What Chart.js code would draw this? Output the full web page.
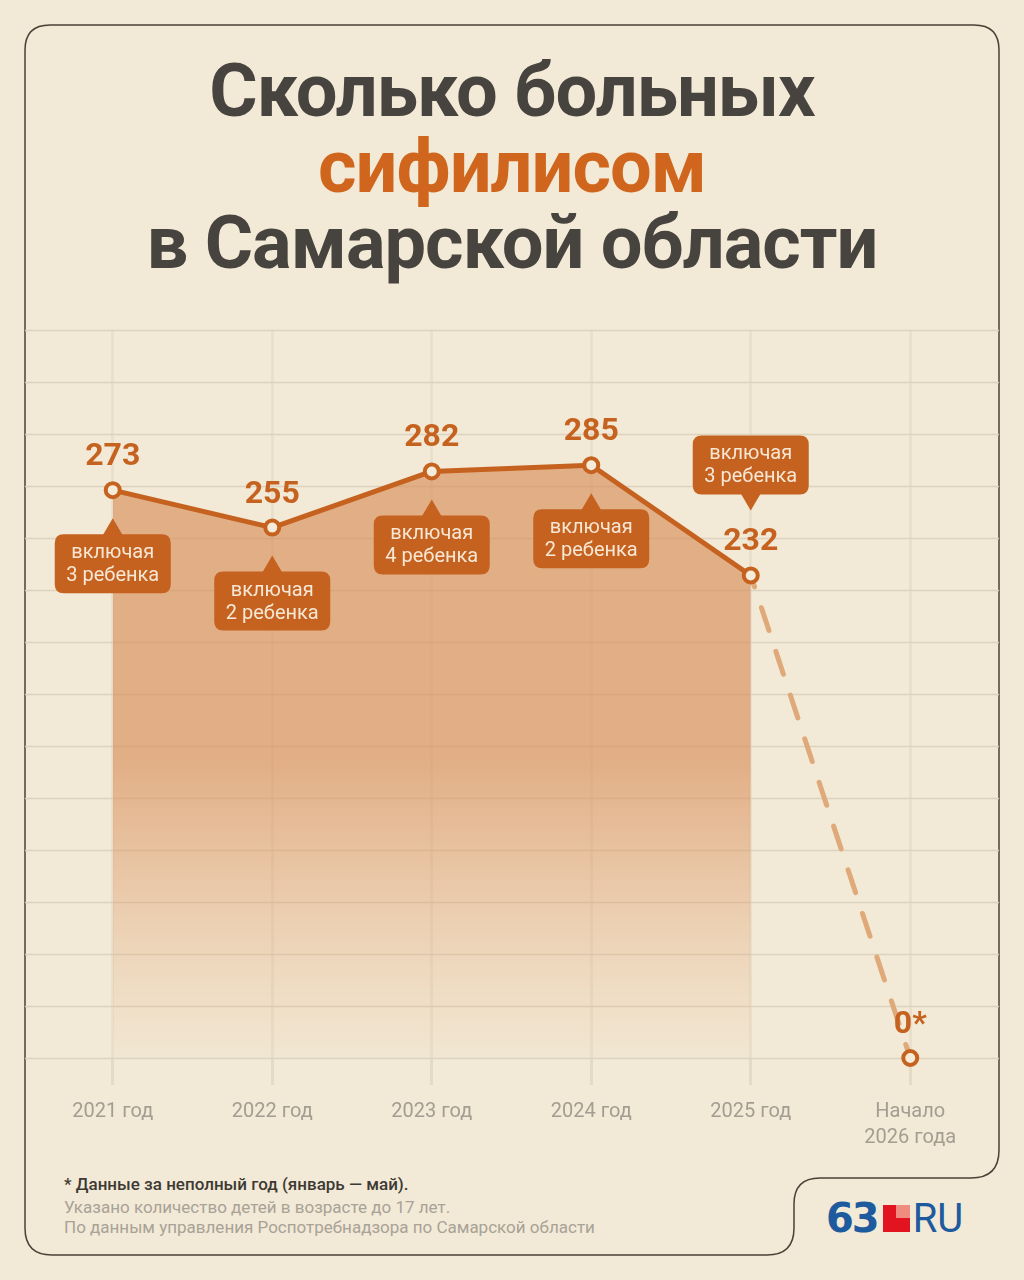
<!DOCTYPE html>
<html lang="ru">
<head>
<meta charset="utf-8">
<title>Сколько больных сифилисом в Самарской области</title>
<script src="https://cdn.jsdelivr.net/npm/chart.js@4.4.1/dist/chart.umd.min.js"></script>
<style>
  html, body { margin: 0; padding: 0; }
  body {
    width: 1024px; height: 1280px; position: relative; overflow: hidden;
    background: #f2e9d6; font-family: Roboto, "Noto Sans", sans-serif;
  }
  #frame { position: absolute; left: 0; top: 0; }
  #title {
    position: absolute; left: 0; top: 53px; width: 1024px; text-align: center;
    font-weight: 700; font-size: 74px; line-height: 76px; color: #47433e;
    letter-spacing: -1px;
  }
  #title .hl { color: #d0661d; }
  #chartBox { position: absolute; left: 0; top: 300px; width: 1024px; height: 870px; }
  #notes { position: absolute; left: 64px; top: 1174px; font-size: 17px; line-height: 20px; }
  #notes .star { color: #3d3934; font-weight: 500; margin-bottom: 3px; }
  #notes .gray { color: #a8a297; }
  #logo { position: absolute; left: 826px; top: 1198px; height: 40px; display: flex; align-items: center; }
  #logo .num { font-family: "DejaVu Sans", sans-serif; font-weight: 700; font-size: 40px; color: #1d5a9e; letter-spacing: -2px; }
  #logo .sq { position: relative; width: 27px; height: 27px; margin: 0 3px 0 5px; }
  #logo .sq i { position: absolute; display: block; }
  #logo .ru { font-size: 40px; color: #1d5a9e; font-weight: 400; letter-spacing: 0px; }
</style>
</head>
<body>
<svg id="frame" width="1024" height="1280">
  <path d="M50 25 H974 Q999 25 999 50 V1150 Q999 1178 971 1178 H820 Q794 1178 794 1204 V1228 Q794 1255 767 1255 H52 Q25 1255 25 1228 V50 Q25 25 50 25 Z"
        fill="none" stroke="#4a4137" stroke-width="1.5"/>
</svg>

<div id="title">Сколько больных<br><span class="hl">сифилисом</span><br>в Самарской области</div>

<div id="chartBox"><canvas id="lineChart" width="1024" height="870"></canvas></div>

<div id="notes">
  <div class="star">* Данные за неполный год (январь — май).</div>
  <div class="gray">Указано количество детей в возрасте до 17 лет.</div>
  <div class="gray">По данным управления Роспотребнадзора по Самарской области</div>
</div>

<div id="logo">
  <span class="num">63</span>
  <span class="sq">
    <i style="left:0;top:0;width:13px;height:27px;background:#e1141f"></i>
    <i style="left:13px;top:13px;width:14px;height:14px;background:#e1141f"></i>
    <i style="left:13px;top:0;width:14px;height:13px;background:#f08b80"></i>
  </span>
  <span class="ru">RU</span>
</div>

<script>
// Data
const years = ['2021 год', '2022 год', '2023 год', '2024 год', '2025 год', ['Начало', '2026 года']];
const cases = [273, 255, 282, 285, 232, null];
const casesPartial = [null, null, null, null, 232, 0];
const valueLabels = ['273', '255', '282', '285', '232', '0*'];
const childNotes = [
    ['включая', '3 ребенка'],
    ['включая', '2 ребенка'],
    ['включая', '4 ребенка'],
    ['включая', '2 ребенка'],
    ['включая', '3 ребенка'],
    null
];
const yTicks = [0, 25, 50, 75, 100, 125, 150, 175, 200, 225, 250, 275, 300, 325, 350];

const ORANGE = '#c6621f';
const BG = '#f4ebd9';

// horizontal grid over full card width
const fullGrid = {
    id: 'fullGrid',
    beforeDatasetsDraw(chart) {
        const ctx = chart.ctx;
        const y = chart.scales.y;
        ctx.save();
        ctx.strokeStyle = '#dcd2be';
        ctx.lineWidth = 1.5;
        yTicks.forEach(function (v) {
            const py = Math.round(y.getPixelForValue(v)) + 0.5;
            ctx.beginPath();
            ctx.moveTo(25, py);
            ctx.lineTo(999, py);
            ctx.stroke();
        });
        ctx.restore();
    }
};

function roundRect(ctx, x, y, w, h, r) {
    ctx.beginPath();
    ctx.moveTo(x + r, y);
    ctx.lineTo(x + w - r, y);
    ctx.quadraticCurveTo(x + w, y, x + w, y + r);
    ctx.lineTo(x + w, y + h - r);
    ctx.quadraticCurveTo(x + w, y + h, x + w - r, y + h);
    ctx.lineTo(x + r, y + h);
    ctx.quadraticCurveTo(x, y + h, x, y + h - r);
    ctx.lineTo(x, y + r);
    ctx.quadraticCurveTo(x, y, x + r, y);
    ctx.closePath();
}

// value labels + "включая" callouts
const labelsPlugin = {
    id: 'labelsPlugin',
    afterDatasetsDraw(chart) {
        const ctx = chart.ctx;
        const main = chart.getDatasetMeta(1).data;
        const tail = chart.getDatasetMeta(0).data;
        ctx.save();
        ctx.textAlign = 'center';
        ctx.textBaseline = 'middle';
        for (let i = 0; i < valueLabels.length; i++) {
            const pt = (cases[i] !== null) ? main[i] : tail[i];
            ctx.font = '700 32px Roboto';
            ctx.fillStyle = ORANGE;
            ctx.fillText(valueLabels[i], pt.x, pt.y - 33);

            const note = childNotes[i];
            if (!note) continue;
            const w = 116, h = 59;
            const above = (i === 4);
            const top = above ? pt.y - 140 : pt.y + 44;
            ctx.fillStyle = ORANGE;
            roundRect(ctx, pt.x - w / 2, top, w, h, 9);
            ctx.fill();
            ctx.beginPath();
            if (above) {
                ctx.moveTo(pt.x - 10, top + h - 1);
                ctx.lineTo(pt.x + 10, top + h - 1);
                ctx.lineTo(pt.x, top + h + 16);
            } else {
                ctx.moveTo(pt.x - 10, top + 1);
                ctx.lineTo(pt.x + 10, top + 1);
                ctx.lineTo(pt.x, top - 16);
            }
            ctx.closePath();
            ctx.fill();
            ctx.font = '400 20px Roboto';
            ctx.fillStyle = '#f7e8d6';
            ctx.fillText(note[0], pt.x, top + 19);
            ctx.fillText(note[1], pt.x, top + 42);
        }
        ctx.restore();
    }
};

const ctx = document.getElementById('lineChart').getContext('2d');
const chartInstance = new Chart(ctx, {
    type: 'line',
    data: {
        labels: years,
        datasets: [
            {
                // dashed drop to the partial year
                data: casesPartial,
                order: 2,
                clip: false,
                borderColor: '#dfa979',
                borderWidth: 5,
                borderDash: [24, 22],
                borderDashOffset: 12,
                borderCapStyle: 'round',
                fill: false,
                pointRadius: [0, 0, 0, 0, 0, 7],
                pointBorderWidth: 4,
                pointBorderColor: ORANGE,
                pointBackgroundColor: BG
            },
            {
                data: cases,
                order: 1,
                clip: false,
                borderColor: ORANGE,
                borderWidth: 5,
                borderJoinStyle: 'round',
                fill: 'origin',
                backgroundColor: function (c) {
                    const area = c.chart.chartArea;
                    if (!area) return 'rgba(221,150,98,0.5)';
                    const g = c.chart.ctx.createLinearGradient(0, 460, 0, area.bottom);
                    g.addColorStop(0, 'rgba(215,138,84,0.62)');
                    g.addColorStop(0.4, 'rgba(220,148,96,0.40)');
                    g.addColorStop(1, 'rgba(230,170,120,0.04)');
                    return g;
                },
                pointRadius: 7,
                pointBorderWidth: 4,
                pointBorderColor: ORANGE,
                pointBackgroundColor: BG
            }
        ]
    },
    options: {
        responsive: false,
        animation: false,
        layout: { padding: { left: 33, right: 34, top: 30, bottom: 0 } },
        plugins: {
            legend: { display: false },
            tooltip: { enabled: false }
        },
        scales: {
            x: {
                offset: true,
                border: { display: false },
                grid: {
                    offset: false,
                    color: 'rgba(200,185,160,0.2)',
                    lineWidth: 3,
                    drawTicks: true,
                    tickLength: 27,
                    tickColor: 'rgba(200,185,160,0.3)'
                },
                ticks: {
                    color: '#a39d92',
                    font: { family: 'Roboto', size: 20, lineHeight: 1.3 },
                    padding: 14,
                    maxRotation: 0,
                    autoSkip: false
                },
                afterFit: function (scale) { scale.height = 112; }
            },
            y: {
                display: false,
                min: 0,
                max: 350,
                ticks: { stepSize: 25 }
            }
        }
    },
    plugins: [fullGrid, labelsPlugin]
});
</script>
</body>
</html>
